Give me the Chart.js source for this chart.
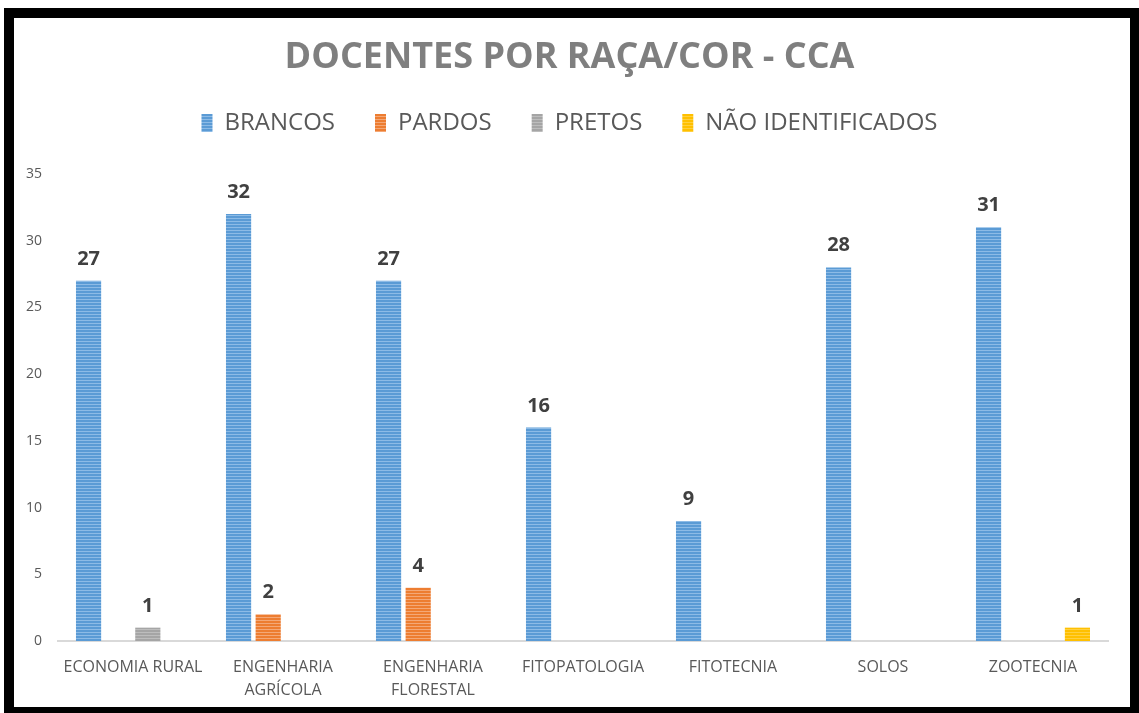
<!DOCTYPE html>
<html lang="pt">
<head>
    <meta charset="UTF-8">
    <title>Docentes por raça/cor - CCA</title>
    <script src="https://cdn.jsdelivr.net/npm/chart.js"></script>
    <style>
        html, body { margin: 0; padding: 0; background: #fff; }
        .wrap { position: relative; width: 1139px; height: 713px; overflow: hidden; }
        #chart { position: absolute; left: 0; top: 0; }
        .frame {
            position: absolute; left: 4px; top: 8px; width: 1136px; height: 709px;
            border: 10px solid #000; box-sizing: border-box; pointer-events: none;
        }
    </style>
</head>
<body>
    <div class="wrap">
        <canvas id="chart" width="1139" height="713"></canvas>
        <div class="frame"></div>
    </div>

    <script>
        // dados
        const departamentos = [
            'ECONOMIA RURAL',
            ['ENGENHARIA', 'AGRÍCOLA'],
            ['ENGENHARIA', 'FLORESTAL'],
            'FITOPATOLOGIA',
            'FITOTECNIA',
            'SOLOS',
            'ZOOTECNIA'
        ];
        const brancos = [27, 32, 27, 16, 9, 28, 31];
        const pardos = [0, 2, 4, 0, 0, 0, 0];
        const pretos = [1, 0, 0, 0, 0, 0, 0];
        const naoIdentificados = [0, 0, 0, 0, 0, 0, 1];
        const yTicks = [0, 5, 10, 15, 20, 25, 30, 35];

        // listras horizontais como no original
        function stripes(base, light) {
            const c = document.createElement('canvas');
            c.width = 4; c.height = 3;
            const g = c.getContext('2d');
            g.fillStyle = base;
            g.fillRect(0, 0, 4, 3);
            g.fillStyle = light;
            g.fillRect(0, 2, 4, 1);
            return g.createPattern(c, 'repeat');
        }

        // rótulos de valor acima das barras
        const valueLabels = {
            id: 'valueLabels',
            afterDatasetsDraw(chart) {
                const ctx = chart.ctx;
                ctx.save();
                ctx.font = 'bold 20px "Open Sans", sans-serif';
                ctx.fillStyle = '#404040';
                ctx.textAlign = 'center';
                ctx.textBaseline = 'alphabetic';
                chart.data.datasets.forEach((ds, i) => {
                    chart.getDatasetMeta(i).data.forEach((bar, j) => {
                        const v = ds.data[j];
                        if (v > 0) ctx.fillText(v, bar.x, bar.y - 16);
                    });
                });
                ctx.restore();
            }
        };

        // espaço extra entre a legenda e o gráfico
        const legendGap = {
            id: 'legendGap',
            beforeInit(chart) {
                const fit = chart.legend.fit;
                chart.legend.fit = function () {
                    fit.call(this);
                    this.height += 29;
                };
            }
        };

        const ctx = document.getElementById('chart').getContext('2d');
        new Chart(ctx, {
            type: 'bar',
            data: {
                labels: departamentos,
                datasets: [
                    { label: 'BRANCOS', data: brancos, backgroundColor: stripes('#5b9bd5', '#8dbbe6') },
                    { label: 'PARDOS', data: pardos, backgroundColor: stripes('#ed7d31', '#f4a877') },
                    { label: 'PRETOS', data: pretos, backgroundColor: stripes('#a5a5a5', '#bdbdbd') },
                    { label: 'NÃO IDENTIFICADOS', data: naoIdentificados, backgroundColor: stripes('#ffc000', '#ffd040') }
                ]
            },
            options: {
                responsive: false,
                animation: false,
                devicePixelRatio: 1,
                categoryPercentage: 0.79,
                barPercentage: 0.85,
                layout: { padding: 0 },
                plugins: {
                    title: {
                        display: true,
                        text: 'DOCENTES POR RAÇA/COR - CCA',
                        color: '#7f7f7f',
                        font: { family: '"Open Sans", sans-serif', size: 36, weight: 'bold', lineHeight: 0.5 },
                        padding: { top: 49, bottom: 4 }
                    },
                    legend: {
                        labels: {
                            color: '#595959',
                            font: { family: '"Open Sans", sans-serif', size: 24 },
                            boxWidth: 11,
                            boxHeight: 18,
                            padding: 40
                        }
                    },
                    tooltip: { enabled: false }
                },
                scales: {
                    x: {
                        grid: { display: false },
                        border: { display: true, color: '#d9d9d9', width: 2 },
                        ticks: {
                            color: '#595959',
                            font: { family: '"Open Sans", sans-serif', size: 16, lineHeight: 1.45 },
                            padding: 7,
                            maxRotation: 0
                        },
                        afterFit(scale) { scale.height = 72; }
                    },
                    y: {
                        min: 0,
                        max: 35,
                        grid: { display: false },
                        border: { display: false },
                        ticks: {
                            stepSize: 5,
                            color: '#595959',
                            font: { family: '"Open Sans", sans-serif', size: 14 },
                            padding: 8
                        },
                        afterBuildTicks(scale) {
                            scale.ticks = yTicks.map(v => ({ value: v }));
                        },
                        afterFit(scale) { scale.width = 58; }
                    },
                    // eixo vazio à direita, só para reservar a margem
                    y2: {
                        position: 'right',
                        min: 0,
                        max: 35,
                        grid: { display: false },
                        border: { display: false },
                        ticks: { display: false },
                        afterFit(scale) { scale.width = 31; }
                    }
                }
            },
            plugins: [valueLabels, legendGap]
        });
    </script>
</body>
</html>
